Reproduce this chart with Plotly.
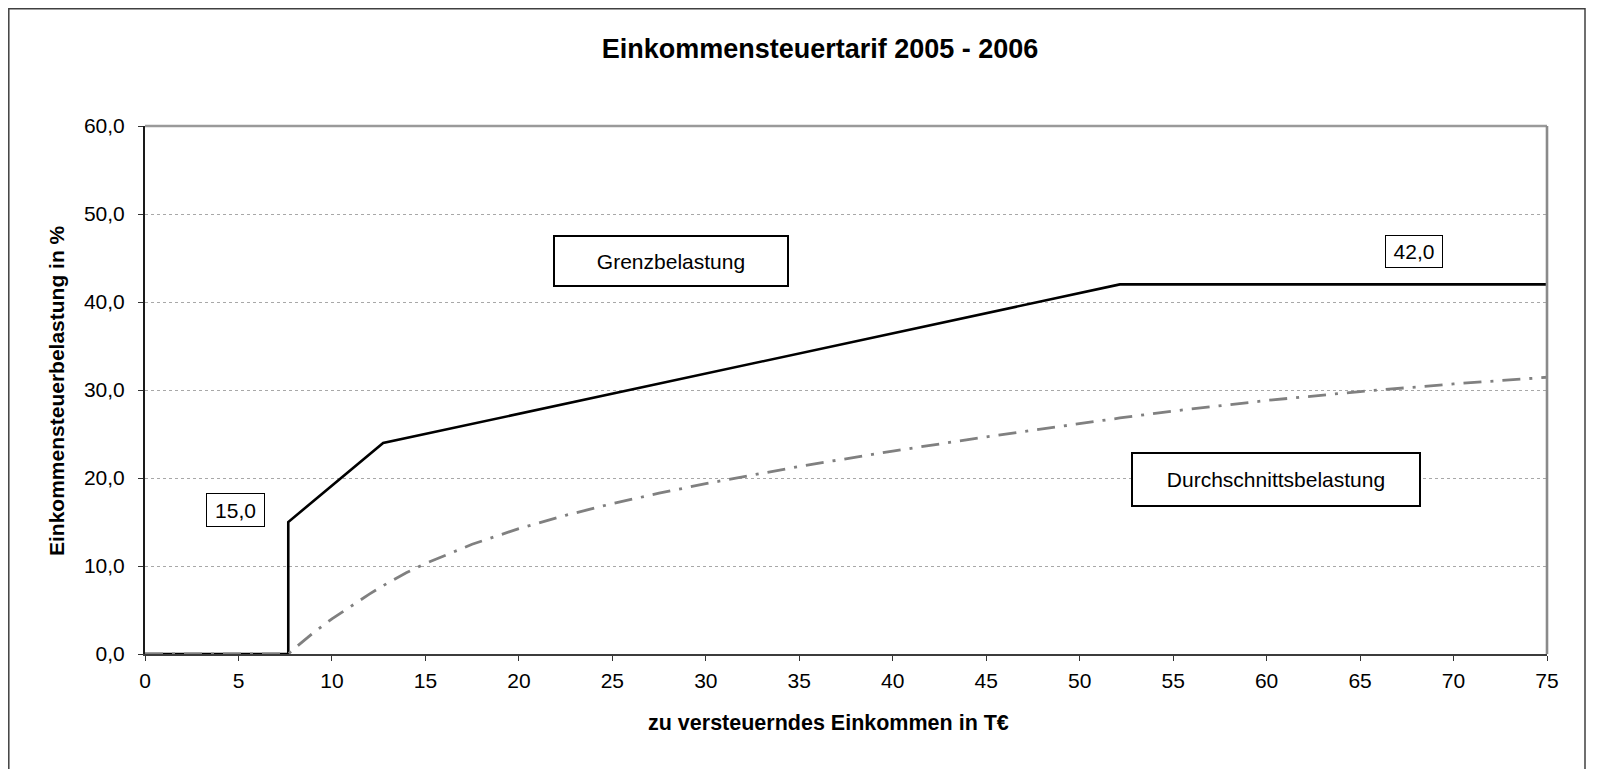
import plotly.graph_objects as go

# Grenzbelastung (marginal rate), in % over taxable income in T€
income_marginal = [0, 7.664, 7.664, 12.739, 52.151, 75]
rate_marginal = [0.0, 0.0, 15.0, 23.97, 42.0, 42.0]

# Durchschnittsbelastung (average rate), in %
income_average = [0, 7.664, 8, 9, 10, 11, 12, 12.739, 13, 14, 15, 17.5, 20, 22.5,
                  25, 27.5, 30, 35, 40, 45, 50, 52.151, 55, 60, 65, 70, 75]
rate_average = [0.0, 0.0, 0.64, 2.40, 3.99, 5.44, 6.80, 7.76, 8.09, 9.25, 10.28, 12.47,
                14.25, 15.76, 17.09, 18.27, 19.36, 21.31, 23.06, 24.67, 26.19, 26.82,
                27.61, 28.81, 29.82, 30.69, 31.45]

x_ticks = list(range(0, 80, 5))
x_tick_labels = [str(v) for v in x_ticks]
y_ticks = [0, 10, 20, 30, 40, 50, 60]
y_tick_labels = ["0,0", "10,0", "20,0", "30,0", "40,0", "50,0", "60,0"]

# the page body has an 8px margin, so the figure starts at (8, 8) on the page
BODY = 8
W, H = 1608 - BODY, 769 - BODY
PLOT_LEFT, PLOT_RIGHT, PLOT_TOP, PLOT_BOTTOM = 145, 1547, 126, 654  # page px
L, R = PLOT_LEFT - BODY, 1608 - PLOT_RIGHT
T, B = PLOT_TOP - BODY, 769 - PLOT_BOTTOM
PW, PH = PLOT_RIGHT - PLOT_LEFT, PLOT_BOTTOM - PLOT_TOP
FONT = "Liberation Sans, Arial, sans-serif"


def px_x(p):
    return (p - PLOT_LEFT) / PW


def px_y(p):
    return (PLOT_BOTTOM - p) / PH


fig = go.Figure()
fig.add_trace(go.Scatter(
    x=income_marginal, y=rate_marginal, mode="lines",
    line=dict(color="#000000", width=2.6),
    name="Grenzbelastung", cliponaxis=False,
))
fig.add_trace(go.Scatter(
    x=income_average, y=rate_average, mode="lines",
    line=dict(color="#808080", width=2.8, dash="18px,9px,3px,9px"),
    name="Durchschnittsbelastung", cliponaxis=False,
))

fig.update_xaxes(
    range=[0, 75], tickvals=x_ticks, ticktext=x_tick_labels,
    ticks="outside", ticklen=5, tickwidth=1, tickcolor="#333333",
    ticklabelstandoff=2,
    showline=True, linecolor="#3c3c3c", linewidth=2,
    showgrid=False, zeroline=False,
    tickfont=dict(size=21, color="#000000"),
)
fig.update_yaxes(
    range=[0, 60], tickvals=y_ticks, ticktext=y_tick_labels,
    ticks="outside", ticklen=5, tickwidth=1, tickcolor="#333333",
    ticklabelstandoff=9,
    showline=True, linecolor="#1a1a1a", linewidth=2,
    showgrid=True, gridcolor="#a8a8a8", gridwidth=1, griddash="dot",
    zeroline=False,
    tickfont=dict(size=21, color="#000000"),
)

shapes = [
    # plot area border (top and right), grey
    dict(type="line", xref="paper", yref="paper", x0=0, x1=1, y0=1, y1=1,
         line=dict(color="#9a9a9a", width=2.6)),
    dict(type="line", xref="paper", yref="paper", x0=1, x1=1, y0=0, y1=1,
         line=dict(color="#8a8a8a", width=2.6)),
    # outer chart border (top edge kept just inside the figure)
    dict(type="rect", xref="paper", yref="paper",
         x0=px_x(8.8), x1=px_x(1585), y0=px_y(8.8), y1=px_y(800),
         line=dict(color="#404040", width=1.5)),
]

annotations = [
    dict(text="zu versteuerndes Einkommen in T€", xref="paper", yref="paper",
         x=px_x(828), y=px_y(723), xanchor="center", yanchor="middle",
         showarrow=False, font=dict(size=21.5, weight="bold")),
    dict(text="Einkommensteuerbelastung in %", xref="paper", yref="paper",
         x=px_x(56), y=px_y(391), xanchor="center", yanchor="middle",
         textangle=-90, showarrow=False, font=dict(size=21, weight="bold")),
    dict(text="Grenzbelastung", xref="x", yref="y", x=28.14, y=44.66,
         width=232, height=48, showarrow=False, bgcolor="#ffffff",
         bordercolor="#000000", borderwidth=2, borderpad=0, font=dict(size=21)),
    dict(text="Durchschnittsbelastung", xref="x", yref="y", x=60.50, y=19.81,
         width=286, height=51, showarrow=False, bgcolor="#ffffff",
         bordercolor="#000000", borderwidth=2, borderpad=0, font=dict(size=21)),
    dict(text="42,0", xref="x", yref="y", x=67.89, y=45.77,
         width=56, height=31, showarrow=False, bgcolor="#ffffff",
         bordercolor="#000000", borderwidth=1, borderpad=0, font=dict(size=21)),
    dict(text="15,0", xref="x", yref="y", x=4.83, y=16.34,
         width=57, height=32, showarrow=False, bgcolor="#ffffff",
         bordercolor="#000000", borderwidth=1, borderpad=0, font=dict(size=21)),
]

fig.update_layout(
    width=W, height=H,
    margin=dict(l=L, r=R, t=T, b=B),
    paper_bgcolor="#ffffff", plot_bgcolor="#ffffff",
    font=dict(family=FONT, color="#000000"),
    showlegend=False,
    title=dict(text="Einkommensteuertarif 2005 - 2006", x=(820 - BODY) / W, xanchor="center",
               y=1 - (49 - BODY) / H, yanchor="middle", yref="container",
               font=dict(size=27, weight="bold")),
    shapes=shapes,
    annotations=annotations,
)

fig.write_html("out.html")
